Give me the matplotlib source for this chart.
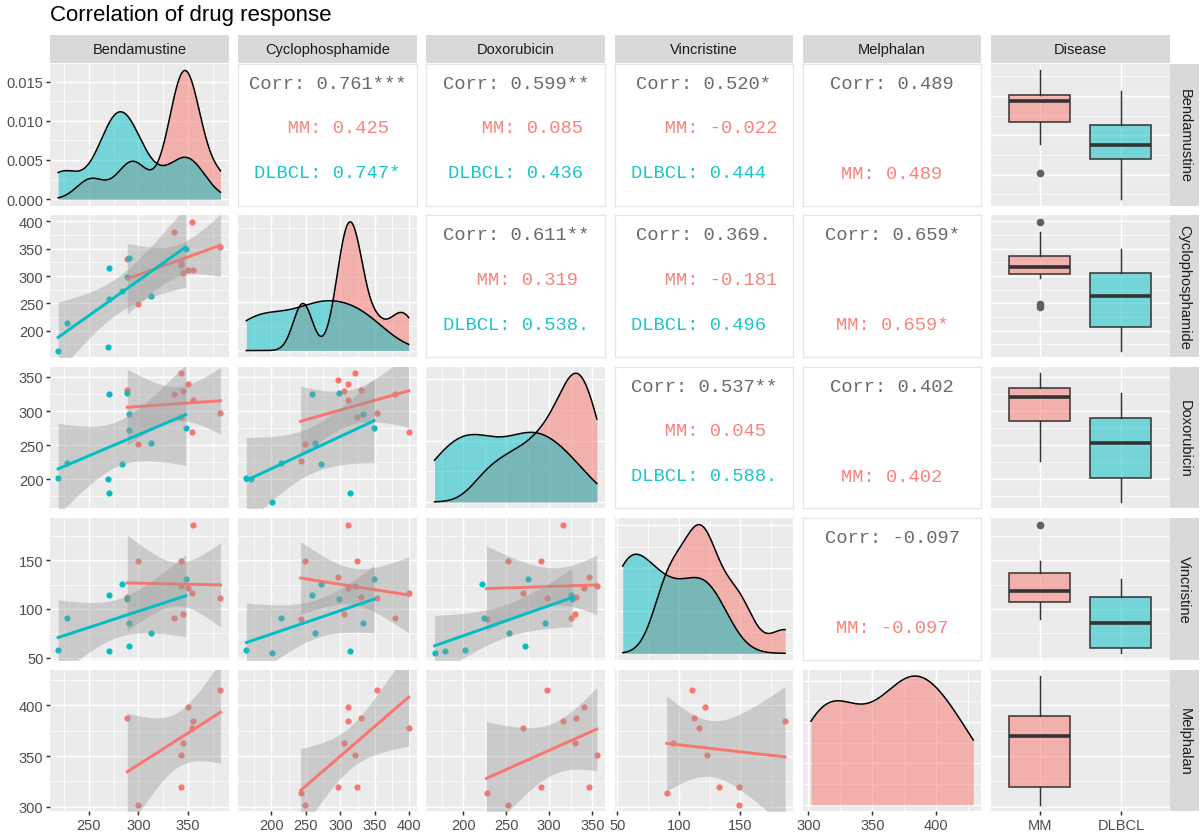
import numpy as np
import matplotlib
matplotlib.use('Agg')
import matplotlib.pyplot as plt
from matplotlib.colors import to_rgba
from matplotlib.ticker import MaxNLocator

nan = np.nan

drugs = ['Bendamustine', 'Cyclophosphamide', 'Doxorubicin', 'Vincristine', 'Melphalan']
groups = ['MM', 'DLBCL']
group_colors = ['#F8766D', '#00BFC4']

# one entry per sample, NaN where the drug was not measured
disease = ['MM'] * 14 + ['DLBCL'] * 15
bendamustine = [343.3, nan, 349.7, 345.0, 288.7, 354.7, 336.0, 382.7, 343.3, 354.0, 299.3, nan, nan, 252.0,
                219.0, 269.0, nan, 228.3, 270.0, 312.7, 283.3, 288.0, 270.5, 290.7, 347.7, 290.7, 356.0, 343.0, nan]
cyclophosphamide = [321.0, 297.0, 310.6, 305.0, 330.4, 310.6, 379.7, 352.6, 324.0, 399.0, 249.0, 242.5, nan, nan,
                    163.8, 170.0, 201.4, 213.9, 258.8, 262.8, 271.9, 298.5, 314.0, 332.8, 348.7, nan, nan, nan, nan]
doxorubicin = [355.4, 346.0, 340.3, 329.5, 331.0, 315.5, 325.7, 297.4, 291.0, 269.6, 252.0, 227.2, nan, nan,
               201.9, 201.0, 166.8, 224.3, 325.2, 253.5, 222.0, 326.6, 179.5, 295.0, 275.4, 271.6, nan, nan, 290.0]
vincristine = [123.0, 132.7, 121.4, 95.2, 112.6, 186.4, 90.8, 110.9, 149.3, 116.3, 149.3, 90.1, nan, nan,
               58.2, nan, 54.4, 90.8, 114.6, 75.0, 126.0, 110.0, 56.5, 85.6, 130.8, 62.2, nan, nan, nan]
melphalan = [351.5, 319.7, 398.6, 363.3, 387.2, 384.5, nan, 415.5, 319.7, 377.3, 302.0, 313.8, 429.0, nan,
             nan, nan, nan, nan, nan, nan, nan, nan, nan, nan, nan, nan, nan, nan, nan]

drug_breaks = [[250, 300, 350], [200, 250, 300, 350, 400], [200, 250, 300, 350],
               [50, 100, 150], [300, 350, 400]]

# upper panels: (row, col) and the printed correlations
corr_cells = [(0, 1), (0, 2), (0, 3), (0, 4), (1, 2), (1, 3), (1, 4), (2, 3), (2, 4), (3, 4)]
corr_all = ['0.761***', '0.599**', '0.520*', '0.489', '0.611**', '0.369.', '0.659*', '0.537**', '0.402', '-0.097']
corr_mm = ['0.425', '0.085', '-0.022', '0.489', '0.319', '-0.181', '0.659*', '0.045', '0.402', '-0.097']
corr_dlbcl = ['0.747*', '0.436', '0.444', None, '0.538.', '0.496', None, '0.588.', None, None]

# t quantiles (0.975) for df = 1..20
T975 = [12.706, 4.303, 3.182, 2.776, 2.571, 2.447, 2.365, 2.306, 2.262, 2.228,
        2.201, 2.179, 2.160, 2.145, 2.131, 2.120, 2.110, 2.101, 2.093, 2.086]

plt.rcParams['font.family'] = ['Liberation Sans', 'DejaVu Sans']

W, H = 1201, 837
PW, PH = 178.6, 141.6
col_left = [50 + 188.2 * j for j in range(6)]
row_top = [65 + 151.4 * i for i in range(5)]

fig = plt.figure(figsize=(W / 100, H / 100), dpi=100)


def add_px(x, y, w, h):
    return fig.add_axes([x / W, 1 - (y + h) / H, w / W, h / H])


data = np.array([bendamustine, cyclophosphamide, doxorubicin, vincristine, melphalan], dtype=float)
dis = np.array(disease)


def expand(lo, hi, f=0.05):
    d = (hi - lo) * f
    return lo - d, hi + d


lims = [expand(np.nanmin(v), np.nanmax(v)) for v in data]


def minors(major, lim):
    step = major[1] - major[0]
    cand = [m - step / 2 for m in major] + [major[-1] + step / 2]
    return [c for c in cand if lim[0] <= c <= lim[1]]


def kde(vals, grid):
    n = len(vals)
    sd = vals.std(ddof=1)
    q75, q25 = np.percentile(vals, [75, 25])
    spread = min(sd, (q75 - q25) / 1.34)
    if spread <= 0:
        spread = sd
    bw = 0.9 * spread * n ** -0.2
    z = (grid[:, None] - vals[None, :]) / bw
    return np.exp(-0.5 * z ** 2).sum(axis=1) / (n * bw * np.sqrt(2 * np.pi))


def style_gray(ax, i, j):
    ax.set_facecolor('#EBEBEB')
    for s in ax.spines.values():
        s.set_visible(False)
    ax.set_axisbelow(True)
    ax.grid(True, which='major', color='white', lw=1.07)
    ax.grid(True, which='minor', color='white', lw=0.53)
    ax.tick_params(which='major', length=2.75, width=1.07, color='#333333',
                   labelsize=10.5, labelcolor='#4D4D4D', pad=2)
    ax.tick_params(which='minor', length=0)
    ax.tick_params(bottom=(i == 4), labelbottom=(i == 4), left=(j == 0), labelleft=(j == 0))


corr_pt = 13.5
cw_px = 0.6 * corr_pt * 100 / 72

for i in range(5):
    for j in range(6):
        ax = add_px(col_left[j], row_top[i], PW, PH)
        if j == 5:
            # boxplot of the row drug by disease
            style_gray(ax, i, j)
            for k, g in enumerate(groups):
                v = data[i][(dis == g) & ~np.isnan(data[i])]
                if len(v) == 0:
                    continue
                ax.boxplot(v, positions=[k + 1], widths=0.75, patch_artist=True, showcaps=False,
                           boxprops=dict(facecolor=to_rgba(group_colors[k], 0.5), edgecolor='#333333', lw=1.1),
                           medianprops=dict(color='#333333', lw=2.6),
                           whiskerprops=dict(color='#333333', lw=1.07),
                           flierprops=dict(marker='o', markerfacecolor='#5F5F5F',
                                           markeredgecolor='#5F5F5F', markersize=4.5))
            ax.set_xticks([1, 2], groups)
            ax.set_yticks(drug_breaks[i])
            ax.set_yticks(minors(drug_breaks[i], lims[i]), minor=True)
            ax.set_xlim(0.4, 2.6)
            ax.set_ylim(*lims[i])
        elif i == j:
            # density on the diagonal
            style_gray(ax, i, j)
            allv = data[i][~np.isnan(data[i])]
            grid = np.linspace(allv.min(), allv.max(), 512)
            ymax = 0
            for k, g in enumerate(groups):
                v = data[i][(dis == g) & ~np.isnan(data[i])]
                if len(v) < 2:
                    continue
                d = kde(v, grid)
                ymax = max(ymax, d.max())
                ax.fill_between(grid, 0, d, color=group_colors[k], alpha=0.5, lw=0)
                ax.plot(grid, d, color='black', lw=1.1)
            ylim = (-0.05 * ymax, 1.05 * ymax)
            yt = [t for t in MaxNLocator(nbins=4, steps=[1, 2, 2.5, 5, 10]).tick_values(*ylim)
                  if ylim[0] <= t <= ylim[1]]
            ax.set_yticks(yt, ['%.3f' % t for t in yt])
            ax.set_yticks(minors(yt, ylim), minor=True)
            ax.set_xticks(drug_breaks[j])
            ax.set_xticks(minors(drug_breaks[j], lims[j]), minor=True)
            ax.set_xlim(*lims[j])
            ax.set_ylim(*ylim)
        elif i > j:
            # scatter with linear fit per disease
            style_gray(ax, i, j)
            fits = []
            for k, g in enumerate(groups):
                m = (dis == g) & ~np.isnan(data[i]) & ~np.isnan(data[j])
                x, y = data[j][m], data[i][m]
                if len(x) == 0:
                    continue
                ax.scatter(x, y, s=20, color=group_colors[k], lw=0, zorder=2)
                if len(x) >= 3:
                    fits.append((k, x, y))
            for k, x, y in fits:
                n = len(x)
                b, a = np.polyfit(x, y, 1)
                xs = np.linspace(x.min(), x.max(), 80)
                yh = a + b * xs
                s = np.sqrt(np.sum((y - (a + b * x)) ** 2) / (n - 2))
                se = s * np.sqrt(1 / n + (xs - x.mean()) ** 2 / np.sum((x - x.mean()) ** 2))
                t = T975[n - 3]
                ax.fill_between(xs, yh - t * se, yh + t * se, color='#999999', alpha=0.4, lw=0, zorder=3)
                ax.plot(xs, yh, color=group_colors[k], lw=2.1, zorder=3)
            ax.set_xticks(drug_breaks[j])
            ax.set_xticks(minors(drug_breaks[j], lims[j]), minor=True)
            ax.set_yticks(drug_breaks[i])
            ax.set_yticks(minors(drug_breaks[i], lims[i]), minor=True)
            ax.set_xlim(*lims[j])
            ax.set_ylim(*lims[i])
        else:
            # correlation text
            ax.set_facecolor('white')
            ax.set_xticks([])
            ax.set_yticks([])
            for s in ax.spines.values():
                s.set_color('#E6E6E6')
                s.set_linewidth(0.9)
            c = corr_cells.index((i, j))
            ax.text(0.5, 0.862, 'Corr: ' + corr_all[c], transform=ax.transAxes, ha='center', va='center',
                    family='Liberation Mono', fontsize=corr_pt, color='#6A6A6A')
            labs = [('MM', corr_mm[c], group_colors[0])]
            if corr_dlbcl[c] is not None:
                labs.append(('DLBCL', corr_dlbcl[c], group_colors[1]))
                ys = [0.55, 0.233]
            else:
                ys = [0.226]
            lw_ = max(len(l[0]) for l in labs)
            vw_ = max(len(l[1]) for l in labs)
            for (g, val, col), yy in zip(labs, ys):
                txt = g.rjust(lw_) + ': ' + val.ljust(vw_)
                x0 = 0.5 - len(txt) * cw_px / 2 / PW
                ax.text(x0, yy, txt.rstrip(), transform=ax.transAxes, ha='left', va='center',
                        family='Liberation Mono', fontsize=corr_pt, color=col, alpha=0.9)

# strips
for j, name in enumerate(drugs + ['Disease']):
    sa = add_px(col_left[j], 36, PW, 28)
    sa.set_facecolor('#D9D9D9')
    sa.set_xticks([])
    sa.set_yticks([])
    for s in sa.spines.values():
        s.set_visible(False)
    sa.text(0.5, 0.5, name, ha='center', va='center', fontsize=10.5, color='#1A1A1A', transform=sa.transAxes)

for i, name in enumerate(drugs):
    sa = add_px(1169.6, row_top[i], 29.4, PH)
    sa.set_facecolor('#D9D9D9')
    sa.set_xticks([])
    sa.set_yticks([])
    for s in sa.spines.values():
        s.set_visible(False)
    sa.text(0.5, 0.5, name, ha='center', va='center', rotation=270, fontsize=10.5, color='#1A1A1A',
            transform=sa.transAxes)

fig.text(50 / W, 1 - 21 / H, 'Correlation of drug response', fontsize=16, va='baseline', ha='left',
         color='black')

fig.savefig('out.png', dpi=100)
